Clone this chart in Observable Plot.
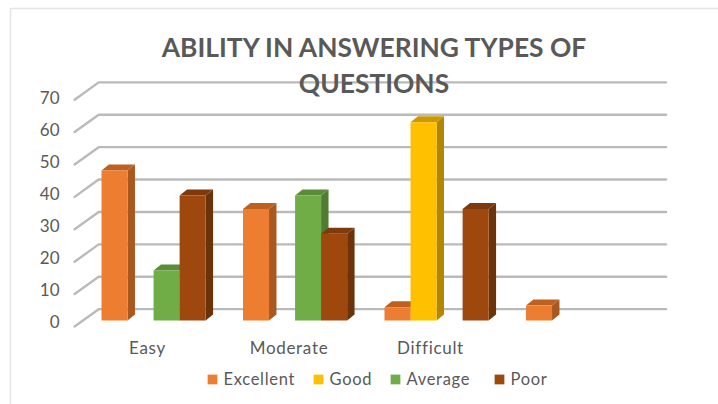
<!DOCTYPE html>
<html><head><meta charset="utf-8">
<script src="https://cdn.jsdelivr.net/npm/d3@7"></script>
<script src="https://cdn.jsdelivr.net/npm/@observablehq/plot@0.6"></script>
<style>html,body{margin:0;padding:0;background:#fff}svg{display:block}</style>
</head><body><div id="chart"></div>
<script>
const categories = ["Easy", "Moderate", "Difficult", ""];
const seriesNames = ["Excellent", "Good", "Average", "Poor"];
const excellent = [46.3, 34.4, 4.1, 4.6];
const good = [0, 0, 61.2, 0];
const average = [15.4, 38.6, 0, 0];
const poor = [38.6, 26.8, 34.4, 0];
const yTicks = [0, 10, 20, 30, 40, 50, 60, 70];
const titleLines = ["ABILITY IN ANSWERING TYPES OF", "QUESTIONS"];

const values = [excellent, good, average, poor];
const fronts = ["#ED7D31", "#FFC000", "#70AD47", "#9E480E"];
const sides = ["#A9581F", "#B38800", "#4F7C32", "#6C320A"];
const tops = ["#BD6020", "#CC9A00", "#5B8C3A", "#7E3A0B"];

const barW = 0.184, depthX = 0.0525, depthY = 1.85;
const polys = [];
categories.forEach((c, i) => seriesNames.forEach((s, k) => {
  const v = values[k][i];
  if (!v) return;
  const x0 = i + k * barW, x1 = x0 + barW;
  const add = (face, fill, pts) => pts.forEach(([x, y]) => polys.push({id: `${i}-${k}-${face}`, x, y, fill}));
  add("side", sides[k], [[x1, 0], [x1 + depthX, depthY], [x1 + depthX, v + depthY], [x1, v], [x1, 0]]);
  add("top", tops[k], [[x0, v], [x0 + depthX, v + depthY], [x1 + depthX, v + depthY], [x1, v], [x0, v]]);
  add("front", fronts[k], [[x0, 0], [x1, 0], [x1, v], [x0, v], [x0, 0]]);
}));

const wallX0 = -0.19, wallX1 = -0.02, gridEnd = 3.99, backOff = 3.5, frontOff = -1.85;
const grid = yTicks.flatMap(t => [
  {t, x: wallX0, y: t + frontOff},
  {t, x: wallX1, y: t + backOff},
  {t, x: gridEnd, y: t + backOff}
]);

const legendX = [212, 318, 395, 499];
const legend = seriesNames.map((name, k) => ({name, fill: fronts[k], px: legendX[k]}));
const px2x = p => (p - 101) / 141.5;
const frame = [{x: px2x(718), y: 96.3}, {x: px2x(10), y: 96.3}, {x: px2x(10), y: -26}];

const chart = Plot.plot({
  width: 718, height: 404,
  marginLeft: 60, marginRight: 0, marginTop: 0, marginBottom: 64,
  style: {background: "#fff", fontFamily: "Lato, sans-serif"},
  x: {domain: [0, 4], range: [101, 667], axis: null},
  y: {domain: [0, 70], range: [320, 93.2], axis: null},
  marks: [
    Plot.line(frame, {x: "x", y: "y", stroke: "#E6E6E6", strokeWidth: 1.6}),
    Plot.line(grid, {x: "x", y: "y", z: "t", stroke: "#BABABA", strokeWidth: 2.4}),
    Plot.text(titleLines, {
      x: () => px2x(373.5), y: (d, i) => 84 - i * 11.1, text: d => d,
      fontSize: 26.4, fontWeight: 700, fill: "#595959"
    }),
    Plot.line(polys, {x: "x", y: "y", z: "id", fill: "fill", stroke: "none", curve: "linear"}),
    Plot.text(yTicks, {
      x: () => px2x(59), y: t => t * 0.9877 - 0.5, text: d => String(d), textAnchor: "end",
      fontSize: 17, fill: "#595959"
    }),
    Plot.axisX({
      ticks: [0, 1, 2], tickFormat: i => categories[i], tickSize: 0, tickPadding: 1, label: null,
      dx: 46, fontSize: 17, fill: "#595959"
    }),
    Plot.dot(legend, {x: d => px2x(d.px), y: () => -18.2, symbol: "square", r: 5.5, fill: "fill", stroke: "none"}),
    Plot.text(legend, {
      x: d => px2x(d.px + 11), y: () => -18.2, text: "name", textAnchor: "start",
      fontSize: 16.5, fill: "#595959"
    })
  ]
});
d3.select(chart).selectAll("text")
  .filter(function () { return seriesNames.includes(this.textContent) || categories.includes(this.textContent); })
  .style("letter-spacing", "0.7px");
document.getElementById("chart").append(chart);
</script></body></html>
